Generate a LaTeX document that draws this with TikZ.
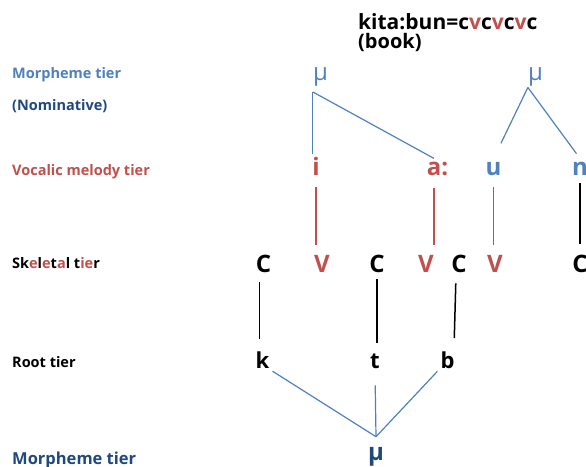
\documentclass[tikz,border=0pt]{standalone}
\usepackage{fontspec}
\setmainfont{Open Sans}
\definecolor{tierblue}{HTML}{4F81BD}
\definecolor{tiernavy}{HTML}{1F497D}
\definecolor{tierred}{HTML}{C0504D}

\begin{document}
\begin{tikzpicture}[x=1pt,y=-1pt,
  tier/.style={anchor=base west,inner sep=0pt,font=\fontsize{14.5}{17}\selectfont\bfseries},
  seg/.style={anchor=base,inner sep=3pt,font=\fontsize{24}{28}\selectfont\bfseries},
  rootseg/.style={anchor=base,inner sep=3pt,font=\fontsize{22}{26}\selectfont\bfseries},
  morph/.style={anchor=base,inner xsep=0pt,inner ysep=6pt,font=\fontsize{24}{28}\selectfont,text=tierblue},
  blueline/.style={tierblue,line width=1.2pt},
  redline/.style={tierred,line width=1.3pt},
  blackline/.style={black,line width=1.5pt}]
\useasboundingbox (0,0) rectangle (586,466);

\path (358,29) node[anchor=base west,inner sep=0pt,font=\fontsize{21}{25}\selectfont\bfseries] (word) {kita:bun=c\textcolor{tierred}{v}c\textcolor{tierred}{v}c\textcolor{tierred}{v}c};
\path (358,48) node[anchor=base west,inner sep=0pt,font=\fontsize{20}{24}\selectfont\bfseries] (gloss) {(book)};

% tier labels
\path (12,78) node[tier,text=tierblue] (lmorph) {Morpheme tier};
\path (12,110) node[tier,text=tiernavy] (lnom) {(Nominative)};
\path (12,175) node[tier,text=tierred] (lvoc) {Vocalic melody tier};
\path (12,268) node[tier] (lskel) {Sk\textcolor{tierred}{e}l\textcolor{tierred}{e}t\textcolor{tierred}{a}l t\textcolor{tierred}{ie}r};
\path (12,367) node[tier] (lroot) {Root tier};
\path (12,464) node[tier,text=tiernavy,font=\fontsize{16.5}{19}\selectfont\bfseries] (lmorphb) {Morpheme tier};

% morphemes and melody
\path (320.5,80) node[morph] (mu1) {μ};
\path (535.5,80) node[morph,inner ysep=1.5pt] (mu2) {μ};
\path (316,175) node[seg,text=tierred] (i) {i};
\path (434,175) node[seg,text=tierred] (a) {a\rlap{:}};
\path (493.5,175) node[seg,text=tierblue] (u) {u};
\path (580,175) node[seg,text=tierblue] (n) {n};
\draw[blueline] (mu1.south west) -- (mu1.south west |- i.north);
\draw[blueline] (mu1.south west) -- (a.north);
\draw[blueline,shorten >=17pt] (mu2.south west) -- (u.north);
\draw[blueline,shorten >=6pt] (mu2.south west) -- (n.north);

% skeleton
\path (263.5,272) node[seg] (c1) {C};
\path (322,272) node[seg,text=tierred] (v1) {V};
\path (377,272) node[seg] (c2) {C};
\path (426,272) node[seg,text=tierred] (v2) {V};
\path (459,272) node[seg] (c3) {C};
\path (495,272) node[seg,text=tierred] (v3) {V};
\path (580,272) node[seg] (c4) {C};
\draw[redline,shorten <=9pt,shorten >=7pt] (i.south) -- (i.south |- v1.north);
\draw[redline,shorten <=9pt,shorten >=7pt] (a.south) -- (a.south |- v2.north);
\draw[redline,shorten <=9pt,shorten >=7pt] (u.south) -- (u.south |- v3.north);
\draw[blackline,shorten <=5pt,shorten >=7pt] (n.south) -- (n.south |- c4.north);

% root
\path (262.5,368) node[rootseg] (k) {k};
\path (375,368) node[rootseg] (t) {t};
\path (447.5,368) node[rootseg] (b) {b};
\draw[blackline,shorten <=7pt,shorten >=9pt] ([xshift=-4pt]c1.south) -- ([xshift=-4pt]c1.south |- k.north);
\draw[blackline,shorten <=4pt,shorten >=7pt] (c2.south) -- (c2.south |- t.north);
\draw[blackline,shorten <=8pt,shorten >=10pt] ([xshift=-3pt]c3.south) -- ([xshift=-5pt]c3.south |- b.north);

% root morpheme
\path (376,460) node[morph,inner ysep=10pt,text=tiernavy,font=\fontsize{24}{28}\selectfont\bfseries] (mu3) {μ};
\draw[blueline] (k.south east) -- (mu3.north);
\draw[blueline,shorten <=14pt] (t.south) -- (mu3.north);
\draw[blueline] (b.south west) -- (mu3.north);
\end{tikzpicture}
\end{document}
